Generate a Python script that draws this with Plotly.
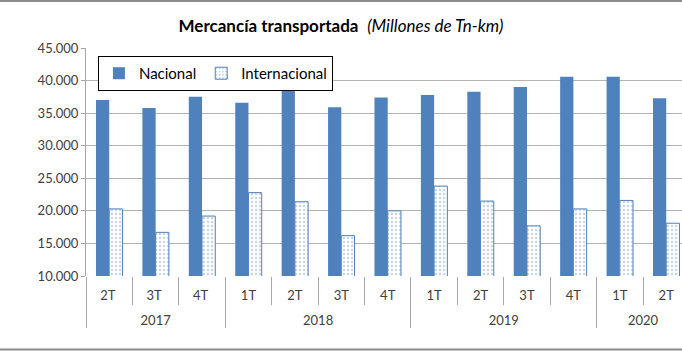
import plotly.graph_objects as go

years = ["2017", "2017", "2017", "2018", "2018", "2018", "2018",
         "2019", "2019", "2019", "2019", "2020", "2020"]
# Plotly orders multicategory sub-labels by first appearance; the 2017 labels
# carry a trailing space (invisible) so the 2018+ quarters sort 1T..4T.
quarters = ["2T ", "3T ", "4T ", "1T", "2T", "3T", "4T",
            "1T", "2T", "3T", "4T", "1T", "2T"]
nacional = [37000, 35800, 37500, 36600, 38800, 35900, 37400,
            37800, 38300, 39000, 40600, 40600, 37300]
internacional = [20300, 16700, 19200, 22800, 21400, 16200, 20000,
                 23800, 21500, 17700, 20300, 21600, 18100]
y_ticks = [10000, 15000, 20000, 25000, 30000, 35000, 40000, 45000]

FONT = "Lato"
BLUE = "#4F81BD"

# year labels pushed one line lower, as in the reference's second row
year_labels = ["<br>" + y for y in years]

fig = go.Figure()
fig.add_trace(go.Bar(
    x=[year_labels, quarters], y=nacional, name="Nacional",
    marker=dict(color=BLUE, line=dict(color=BLUE, width=0)),
))
fig.add_trace(go.Bar(
    x=[year_labels, quarters], y=internacional, name="Internacional",
    marker=dict(color="white", line=dict(color=BLUE, width=1),
                pattern=dict(shape=".", fgcolor="#8fa9cc", bgcolor="#ffffff",
                             size=4, solidity=0.3)),
))

def py(p):
    return (276 - p) / 228

fig.update_layout(
    width=682, height=351,
    margin=dict(l=86, r=0, t=48, b=75),
    paper_bgcolor="white", plot_bgcolor="white",
    separators=",.",
    font=dict(family=FONT, size=13, color="#404040"),
    title=dict(
        text="<b>Mercancía transportada</b>  <i>(Millones de Tn-km)</i>",
        x=0.5, xanchor="center", y=0.925, yanchor="middle",
        font=dict(family=FONT, size=17, color="#000000"),
    ),
    barmode="group", bargap=0.43, bargroupgap=0,
    showlegend=True,
    legend=dict(
        orientation="h", x=0.02, y=0.965, xanchor="left", yanchor="top",
        bgcolor="white", bordercolor="#000000", borderwidth=1,
        font=dict(family=FONT, size=15, color="#000000"),
        itemwidth=30,
    ),
    xaxis=dict(
        type="multicategory",
        range=[-0.5, 12.34],
        showline=False, showgrid=False,
        ticks="outside", ticklen=28, tickcolor="#a6a6a6",
        ticklabelstandoff=10,
        showdividers=True, dividercolor="#a6a6a6", dividerwidth=1,
        tickfont=dict(family=FONT, size=13, color="#404040"),
    ),
    yaxis=dict(
        range=[10000, 45000],
        tickvals=y_ticks, tickformat=",d",
        showgrid=True, gridcolor="#b3b3b3", gridwidth=1,
        showline=True, linecolor="#a6a6a6", linewidth=1,
        ticks="outside", ticklen=4, tickcolor="#a6a6a6",
        tickfont=dict(family=FONT, size=13, color="#404040"),
        zeroline=False,
    ),
    shapes=[
        dict(type="line", xref="paper", yref="paper", x0=-0.2, x1=1.0,
             y0=py(1), y1=py(1), line=dict(color="#8c8c8c", width=2)),
        dict(type="line", xref="paper", yref="paper", x0=-0.2, x1=1.0,
             y0=py(349.5), y1=py(349.5), line=dict(color="#8c8c8c", width=2)),
    ],
)

fig.write_html("out.html")
